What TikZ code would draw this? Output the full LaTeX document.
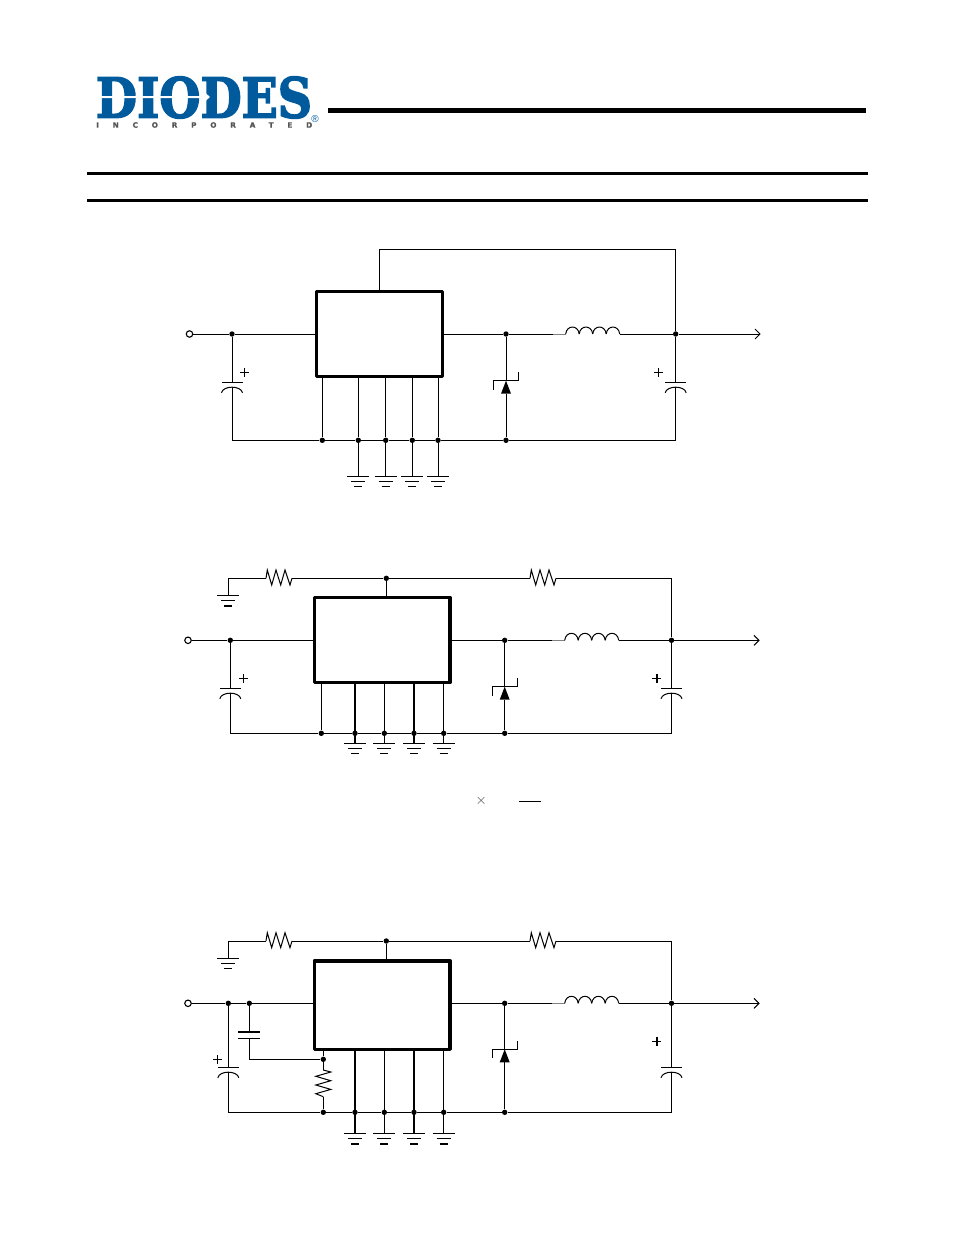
\documentclass[tikz,border=0pt]{standalone}
\usepackage{fontspec}
\setmainfont{Liberation Sans}
\newfontfamily\logofont[FakeBold=3]{DejaVu Serif Bold}
\newfontfamily\incfont[LetterSpace=190,FakeBold=1]{DejaVu Sans Bold}
\usetikzlibrary{positioning, calc}
\definecolor{diodesblue}{HTML}{005A9C}
\definecolor{logogray}{HTML}{555555}
\tikzset{
  wire/.style={draw, line width=1pt},
  heavy/.style={draw, line width=2.2pt},
  rulebar/.style={draw, line width=2.6pt},
  icbox/.style={
    draw,
    rectangle,
    line width=3pt,
    line join=round,
    inner sep=0pt
  },
  jdot/.style={circle, fill, inner sep=0pt, minimum size=5.4pt},
  term/.style={circle, draw, fill=white, line width=1.1pt, inner sep=0pt, minimum size=6.5pt},
  pics/gnd/.style={code={
    \coordinate (-top) at (0,0);
    \draw[wire] (-11,0) -- (11,0);
    \draw[wire] (-7,5) -- (7,5);
    \draw[line width=#1] (-4,10.5) -- (4,10.5);
  }},
  pics/polcap/.style={code={
    \coordinate (-top) at (0,0);
    \coordinate (-bot) at (0,4.5);
    \draw[wire] (-10.5,0) -- (10.5,0);
    \draw[wire] (-10.5,10.5) .. controls (-9,3) and (9,3) .. (10.5,10.5);
  }},
  pics/plus/.style={code={
    \draw[line width=#1] (-4.5,0) -- (4.5,0) (0,-4.5) -- (0,4.5);
  }},
  pics/inductor/.style={code={
    \coordinate (-stub) at (-13,0);
    \coordinate (-out) at (54,0);
    \draw[wire, gray] (-13,0) -- (0,0);
    \foreach \hump in {0,1,2,3}
      \draw[wire] ({\hump*13.5},0) .. controls ({\hump*13.5+1},-9.3) and ({\hump*13.5+12.5},-9.3) .. ({\hump*13.5+13.5},0);
  }},
  pics/zener/.style={code={
    \coordinate (-top) at (0,0);
    \coordinate (-bot) at (0,13);
    \fill (0,0) -- (5,13) -- (-5,13) -- cycle;
    \draw[wire] (-12.5,9) -- (-12.5,0) -- (12.5,0) -- (12.5,-8.5);
  }},
  pics/reshoriz/.style={code={
    \coordinate (-in) at (0,0);
    \coordinate (-out) at (26,0);
    \draw[wire] (0,0) -- (1.3,-8.3) -- (5.7,6.7) -- (10,-8.3) -- (14.7,6.7) -- (19,-8.3)
      -- (24,6.7) -- (26,0);
  }},
  pics/resvert/.style={code={
    \coordinate (-in) at (0,0);
    \coordinate (-out) at (0,26.7);
    \draw[wire] (0,0) -- (7.5,2) -- (-7.5,6.3) -- (7.5,10.7) -- (-7.5,15) -- (7.5,19.4)
      -- (-7.5,23.7) -- (0,26.7);
  }},
  pics/outarrow/.style={code={
    \draw[wire] (-5,-5) -- (0,0) -- (-5,5);
  }}
}

\begin{document}
\begin{tikzpicture}[x=1pt, y=-1pt]
    \useasboundingbox (0,0) rectangle (954,1235);

    % logo
    \node[inner sep=0pt, text=diodesblue] (logo) at (204,97.5)
      {\resizebox{216pt}{41pt}{\logofont DIODES}};
    \fill[white] (97,96) -- (201,96) -- (201,89) -- (210,97) -- (201,105) -- (201,98) -- (97,98) -- cycle;
    \node[inner sep=0pt, text=logogray, anchor=west] (inc) at (96,125)
      {\resizebox{216pt}{5.5pt}{\incfont INCORPORATED}};
    \node[font=\fontsize{10}{10}\selectfont, text=diodesblue, inner sep=0pt] (reg) at (315,119) {\textregistered};

    % header rules
    \draw[line width=4.6pt] (328,110.3) -- (866,110.3);
    \draw[rulebar] (87,173.3) -- (868,173.3);
    \draw[rulebar] (87,200.3) -- (868,200.3);

    % first circuit
    \node[icbox, minimum width=126pt, minimum height=85pt] (ica) at (379.5,334) {};
    \node[term] (vina) at (189.5,334) {};
    \node[jdot] (ja1) at (232,334) {};
    \node[jdot] (ja2) at (506,334) {};
    \node[jdot] (ja3) at (675.7,334) {};
    \foreach \name/\xpos in {gb1/322.3, gb2/358.3, gb3/385.7, gb4/412.3, gb5/438, gb6/506}
      \node[jdot] (\name) at (\xpos,440.3) {};
    \coordinate (outa) at (760,334);
    \coordinate (ca1) at (379.5,249.3);
    \coordinate (ca2) at (675.7,249.3);
    \coordinate (ca3) at (232,440.3);
    \coordinate (ca4) at (675.7,440.3);
    \pic (cin) at (232,382.3) {polcap};
    \pic (cout) at (675.7,382.3) {polcap};
    \pic (dio) at (506,380.7) {zener};
    \pic (ind) at (565.7,334) {inductor};
    \pic at (244.5,372.5) {plus=1pt};
    \pic at (658,372.5) {plus=1pt};
    \pic at (outa) {outarrow};
    \foreach \name/\xpos in {pa1/358.3, pa2/385.7, pa3/412.3, pa4/438}
      \pic (\name) at (\xpos,476) {gnd=1pt};

    \draw[wire] (ica.north) -- (ca1) -- (ca2) -- (ja3);
    \draw[wire] (vina) -- (ja1) -- (ja1 -| ica.west);
    \draw[wire] (ica.east |- ja2) -- (ja2) -- (ind-stub);
    \draw[wire] (ind-out) -- (ja3) -- (outa);
    \draw[wire] (ja1) -- (cin-top);
    \draw[wire] (cin-bot) -- (ca3) -- (gb1) -- (gb2) -- (gb3) -- (gb4) -- (gb5) -- (gb6) -- (ca4) -- (cout-bot);
    \draw[wire] (ja3) -- (cout-top);
    \draw[wire] (ja2) -- (dio-top);
    \draw[wire] (dio-bot) -- (gb6);
    \foreach \name in {gb1,gb2,gb3,gb4,gb5}
      \draw[wire] (\name |- ica.south) -- (\name);
    \draw[wire] (gb2) -- (pa1-top);
    \draw[wire] (gb3) -- (pa2-top);
    \draw[wire] (gb4) -- (pa3-top);
    \draw[wire] (gb5) -- (pa4-top);

    % second circuit
    \node[icbox, line width=3.6pt, minimum width=135.3pt, minimum height=85pt] (icb) at (382.3,640) {};
    \node[term] (vinb) at (188,640.3) {};
    \node[jdot] (jb1) at (230.3,640.3) {};
    \node[jdot] (jb2) at (504.7,640.3) {};
    \node[jdot] (jb3) at (671.5,640.3) {};
    \node[jdot] (jb4) at (386.3,578.3) {};
    \foreach \name/\xpos in {hb1/321.3, hb2/355, hb3/384.3, hb4/414, hb5/443.7, hb6/504.7}
      \node[jdot] (\name) at (\xpos,733.3) {};
    \coordinate (outb) at (759,640.3);
    \coordinate (cb1) at (228.3,578.3);
    \coordinate (cb2) at (671.5,578.3);
    \coordinate (cb3) at (230.3,733.3);
    \coordinate (cb4) at (671.5,733.3);
    \pic (cinb) at (230.3,688.3) {polcap};
    \pic (coutb) at (671.5,688.3) {polcap};
    \pic (diob) at (504.7,686.7) {zener};
    \pic (indb) at (564.7,640.3) {inductor};
    \pic (rab) at (266,578.3) {reshoriz};
    \pic (rbb) at (530,578.3) {reshoriz};
    \pic at (243,678.3) {plus=1pt};
    \pic at (656.7,678.3) {plus=1.6pt};
    \pic at (outb) {outarrow};
    \pic (gtb) at (228.3,595.3) {gnd=1.6pt};
    \foreach \name/\xpos in {pb1/355, pb2/384.3, pb3/414, pb4/443.7}
      \pic (\name) at (\xpos,743.3) {gnd=1pt};

    \draw[wire] (gtb-top) -- (cb1) -- (rab-in);
    \draw[wire] (rab-out) -- (jb4) -- (rbb-in);
    \draw[wire] (rbb-out) -- (cb2) -- (jb3);
    \draw[wire] (jb4) -- (jb4 |- icb.north);
    \draw[wire] (vinb) -- (jb1) -- (jb1 -| icb.west);
    \draw[wire] (icb.east |- jb2) -- (jb2) -- (indb-stub);
    \draw[wire] (indb-out) -- (jb3) -- (outb);
    \draw[wire] (jb1) -- (cinb-top);
    \draw[wire] (cinb-bot) -- (cb3) -- (hb1) -- (hb2) -- (hb3) -- (hb4) -- (hb5) -- (hb6) -- (cb4) -- (coutb-bot);
    \draw[wire] (jb3) -- (coutb-top);
    \draw[wire] (jb2) -- (diob-top);
    \draw[wire] (diob-bot) -- (hb6);
    \draw[wire] (hb1 |- icb.south) -- (hb1);
    \draw[heavy] (hb2 |- icb.south) -- (pb1-top);
    \draw[wire] (hb3 |- icb.south) -- (pb2-top);
    \draw[heavy] (hb4 |- icb.south) -- (pb3-top);
    \draw[wire] (hb5 |- icb.south) -- (pb4-top);

    % fragments of the formula
    \node[inner sep=0pt, text=black!75, font=\fontsize{14}{14}\selectfont] (times) at (481.3,801) {$\times$};
    \coordinate (bara) at (518.7,801);
    \coordinate (barb) at (540.7,801);
    \draw[wire] (bara) -- (barb);

    % third circuit
    \node[icbox, line width=3.6pt, minimum width=135.3pt, minimum height=88.6pt] (icc) at (382.3,1005) {};
    \node[term] (vinc) at (188,1003.3) {};
    \node[jdot] (jc1) at (228.3,1003.3) {};
    \node[jdot] (jc2) at (249.3,1003.3) {};
    \node[jdot] (jc3) at (504.7,1003.3) {};
    \node[jdot] (jc4) at (671.5,1003.3) {};
    \node[jdot] (jc5) at (386.3,941) {};
    \node[jdot] (jc6) at (323.3,1059.3) {};
    \foreach \name/\xpos in {kb1/323.3, kb2/355, kb3/384.3, kb4/414, kb5/443.7, kb6/504.7}
      \node[jdot] (\name) at (\xpos,1112.3) {};
    \coordinate (outc) at (759,1003.3);
    \coordinate (cc1) at (228.3,941);
    \coordinate (cc2) at (671.5,941);
    \coordinate (cc3) at (228.3,1112.3);
    \coordinate (cc4) at (671.5,1112.3);
    \coordinate (cc5) at (249.3,1059.3);
    \coordinate (pla) at (249.3,1032);
    \coordinate (plb) at (249.3,1038.3);
    \pic (cinc) at (228.3,1067.3) {polcap};
    \pic (coutc) at (671.5,1067.3) {polcap};
    \pic (dioc) at (504.7,1049.3) {zener};
    \pic (indc) at (564.7,1003.3) {inductor};
    \pic (rac) at (266,941) {reshoriz};
    \pic (rbc) at (530,941) {reshoriz};
    \pic (rcc) at (323.3,1070) {resvert};
    \pic at (217.7,1059.7) {plus=1pt};
    \pic at (656.7,1041.3) {plus=1.6pt};
    \pic at (outc) {outarrow};
    \pic (gtc) at (228.3,958) {gnd=1.6pt};
    \foreach \name/\xpos in {pc1/355, pc2/384.3, pc3/414, pc4/443.7}
      \pic (\name) at (\xpos,1133.3) {gnd=1.6pt};

    \draw[wire] (gtc-top) -- (cc1) -- (rac-in);
    \draw[wire] (rac-out) -- (jc5) -- (rbc-in);
    \draw[wire] (rbc-out) -- (cc2) -- (jc4);
    \draw[wire] (jc5) -- (jc5 |- icc.north);
    \draw[wire] (vinc) -- (jc1) -- (jc2) -- (jc2 -| icc.west);
    \draw[wire] (icc.east |- jc3) -- (jc3) -- (indc-stub);
    \draw[wire] (indc-out) -- (jc4) -- (outc);
    \draw[wire] (jc1) -- (cinc-top);
    \draw[wire] (cinc-bot) -- (cc3) -- (kb1) -- (kb2) -- (kb3) -- (kb4) -- (kb5) -- (kb6) -- (cc4) -- (coutc-bot);
    \draw[wire] (jc4) -- (coutc-top);
    \draw[wire] (jc3) -- (dioc-top);
    \draw[wire] (dioc-bot) -- (kb6);
    \draw[wire] (jc2) -- (pla);
    \draw[heavy] ($(pla)+(-11,0)$) -- ($(pla)+(11,0)$);
    \draw[wire] ($(plb)+(-11,0)$) -- ($(plb)+(11,0)$);
    \draw[wire] (plb) -- (cc5) -- (jc6);
    \draw[wire] (jc6 |- icc.south) -- (jc6) -- (rcc-in);
    \draw[wire] (rcc-out) -- (kb1);
    \draw[heavy] (kb2 |- icc.south) -- (pc1-top);
    \draw[wire] (kb3 |- icc.south) -- (pc2-top);
    \draw[heavy] (kb4 |- icc.south) -- (pc3-top);
    \draw[wire] (kb5 |- icc.south) -- (pc4-top);
\end{tikzpicture}
\end{document}
